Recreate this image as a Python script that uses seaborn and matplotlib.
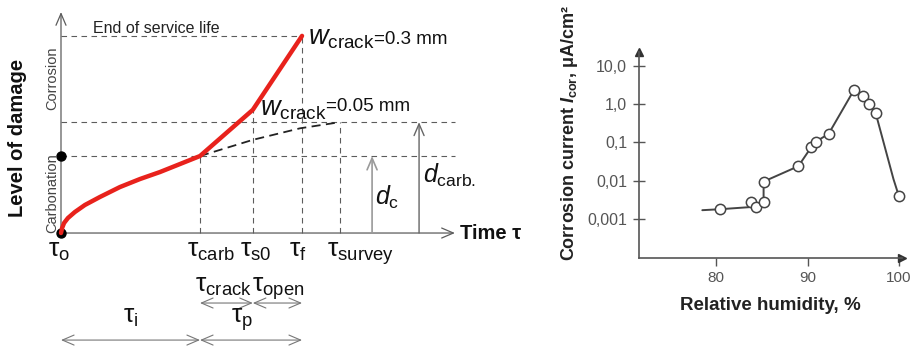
import matplotlib
matplotlib.use("Agg")
import matplotlib.pyplot as plt
from matplotlib.ticker import NullLocator
import seaborn as sns

# ---------------- Service-life model (schematic, arbitrary units) ----------------
carb_time = [0.0, 0.04, 0.11, 0.25, 0.50, 0.86, 1.40, 2.12, 2.84, 3.56, 4.28, 5.0]
carb_level = [0.0, 0.065, 0.13, 0.195, 0.273, 0.364, 0.468, 0.597, 0.701, 0.792, 0.896, 1.0]
corr_time = [5.0, 6.9, 8.67]
corr_level = [1.0, 1.6, 2.56]
carb_only_time = [5.0, 6.9, 8.6, 10.04]
carb_only_level = [1.0, 1.21, 1.36, 1.44]
tau_subs = ["o", "carb", "s0", "f", "survey"]
tau_times = [0.0, 5.0, 6.9, 8.67, 10.04]
d_c = 1.0
d_carb = 1.44
crack_texts = ["=0.05 mm", "=0.3 mm"]

# ---------------- Corrosion current vs relative humidity ----------------
rh_points = [80.4, 83.8, 84.4, 85.2, 85.2, 89.0, 90.4, 90.9, 92.3, 95.1, 96.1, 96.75, 97.45, 100.0]
icor_points = [0.0018, 0.0028, 0.0021, 0.0028, 0.0095, 0.024, 0.075, 0.105, 0.167,
               2.4, 1.62, 1.0, 0.59, 0.0039]
rh_trend = [78.5, 80.4, 84.4, 85.2, 85.2, 89.0, 90.4, 90.9, 92.3, 95.1, 96.1, 96.75,
            97.45, 99.4, 100.0]
icor_trend = [0.0017, 0.0018, 0.0021, 0.0028, 0.0095, 0.024, 0.075, 0.105, 0.167,
              2.4, 1.62, 1.0, 0.59, 0.011, 0.0039]
rh_ticks = [80, 90, 100]
icor_ticks = [0.001, 0.01, 0.1, 1.0, 10.0]
icor_ticklabels = ["0,001", "0,01", "0,1", "1,0", "10,0"]

sns.set_theme(style="white")
plt.rcParams["font.family"] = ["Liberation Sans", "DejaVu Sans"]
plt.rcParams.update({
    "mathtext.fontset": "custom",
    "mathtext.rm": "Liberation Sans",
    "mathtext.it": "Liberation Sans:italic",
    "mathtext.bf": "Liberation Sans:bold",
    "mathtext.bfit": "Liberation Sans:italic:bold",
})

fig = plt.figure(figsize=(9.13, 3.5), dpi=100)

# ======================= left: damage development =======================
axL = fig.add_axes([0, 0, 545 / 913, 1])
axL.set_xlim(-2.194, 17.41)
axL.set_ylim(-1.519, 3.026)
axL.axis("off")

GRAY = "#5c5c5c"
RED = "#e8221c"
t_end, l_top = 14.17, 2.87
dash = (0, (5, 4))

def arrow(ax, p0, p1, style="->", color=GRAY, lw=0.9):
    ax.annotate("", xy=p1, xytext=p0,
                arrowprops=dict(arrowstyle=f"{style},head_length=0.7,head_width=0.3",
                                color=color, lw=lw, shrinkA=0, shrinkB=0))

# axes
arrow(axL, (0, 0), (t_end, 0))
arrow(axL, (0, 0), (0, l_top))

t_o, t_carb, t_s0, t_f, t_survey = tau_times
l_w005, l_end = corr_level[1], corr_level[2]

# guide lines
axL.plot([0, t_f], [l_end, l_end], ls=dash, color=GRAY, lw=0.8)
axL.plot([0, t_end], [d_carb, d_carb], ls=dash, color=GRAY, lw=0.8)
axL.plot([0, t_end], [d_c, d_c], ls=dash, color=GRAY, lw=0.8)
for t, top in [(t_carb, d_c), (t_s0, l_w005), (t_f, l_end), (t_survey, d_carb)]:
    axL.plot([t, t], [0, top], ls=dash, color=GRAY, lw=0.8)

# depth arrows
arrow(axL, (11.19, 0), (11.19, d_c), color="#9a9a9a", lw=1.2)
arrow(axL, (12.88, 0), (12.88, d_carb), color="#666666", lw=1.0)

# damage curves
sns.lineplot(x=carb_only_time, y=carb_only_level, color="#222222", lw=1.3,
             linestyle=(0, (5, 3)), ax=axL)
axL.scatter([t_o, 0], [0, d_c], s=42, color="black", zorder=5)
sns.lineplot(x=carb_time + corr_time[1:], y=carb_level + corr_level[1:], color=RED,
             lw=3.2, solid_capstyle="round", solid_joinstyle="round", zorder=6, ax=axL)

# labels
axL.text(1.15, 2.597, "End of service life", fontsize=11.5, color="#222", va="baseline")
axL.text(8.885, 2.442, r"$w_{\mathrm{crack}}$", fontsize=19.5, color="#111", va="baseline")
axL.text(11.26, 2.455, crack_texts[1], fontsize=13.5, color="#111", va="baseline")
axL.text(7.158, 1.532, r"$w_{\mathrm{crack}}$", fontsize=19.5, color="#111", va="baseline")
axL.text(9.53, 1.584, crack_texts[0], fontsize=13.5, color="#111", va="baseline")
axL.text(-0.324, 2.013, "Corrosion", fontsize=10.5, color="#444", rotation=90,
         ha="center", va="center")
axL.text(-0.324, 0.519, "Carbonation", fontsize=10.5, color="#444", rotation=90,
         ha="center", va="center")
axL.text(-1.547, 1.234, "Level of damage", fontsize=14.5, fontweight="bold", color="#111",
         rotation=90, ha="center", va="center")
axL.text(14.35, 0.0, "Time τ", fontsize=14.5, fontweight="bold", color="#111", va="center")
axL.text(11.295, 0.364, r"$d_{\mathrm{c}}$", fontsize=18, color="#111", va="baseline")
axL.text(13.02, 0.649, r"$d_{\mathrm{carb.}}$", fontsize=18, color="#111", va="baseline")

TAU_FS = 19
for sub, t in zip(tau_subs, tau_times):
    axL.text(t - 0.47, -0.312, rf"$\mathrm{{\tau_{{{sub}}}}}$", fontsize=TAU_FS, color="#111",
             va="baseline")

axL.text(4.82, -0.766, r"$\mathrm{\tau_{crack}}$", fontsize=TAU_FS, color="#111", va="baseline")
axL.text(6.87, -0.766, r"$\mathrm{\tau_{open}}$", fontsize=TAU_FS, color="#111", va="baseline")
arrow(axL, (t_carb, -0.909), (t_s0, -0.909), style="<->", color="#777", lw=0.8)
arrow(axL, (t_s0, -0.909), (t_f, -0.909), style="<->", color="#777", lw=0.8)

axL.text(2.52, -1.169, r"$\mathrm{\tau_{i}}$", fontsize=TAU_FS, color="#111", va="baseline",
         ha="center")
axL.text(6.51, -1.169, r"$\mathrm{\tau_{p}}$", fontsize=TAU_FS, color="#111", va="baseline",
         ha="center")
arrow(axL, (t_o, -1.39), (t_carb, -1.39), style="<->", color="#777", lw=0.8)
arrow(axL, (t_carb, -1.39), (t_f, -1.39), style="<->", color="#777", lw=0.8)

# ======================= right: corrosion current =======================
axR = fig.add_axes([639 / 913, 92 / 350, 263 / 913, 206 / 350])
axR.set_yscale("log")
axR.set_xlim(71.58, 100.33)
axR.set_ylim(10 ** -4.0196, 10 ** 1.366)

sns.lineplot(x=rh_trend, y=icor_trend, sort=False, estimator=None, color="#444444",
             lw=1.4, ax=axR)
sns.scatterplot(x=rh_points, y=icor_points, s=55, facecolor="white", edgecolor="#444444",
                linewidth=1.1, zorder=3, clip_on=False, ax=axR)

for side in ("top", "right"):
    axR.spines[side].set_visible(False)
for side in ("left", "bottom"):
    axR.spines[side].set_color("#555555")
    axR.spines[side].set_linewidth(1.2)
axR.plot(1, 0, ">", color="#333333", ms=6, transform=axR.transAxes, clip_on=False)
axR.plot(0, 1, "^", color="#333333", ms=6, transform=axR.transAxes, clip_on=False)

axR.set_yticks(icor_ticks, icor_ticklabels)
axR.yaxis.set_minor_locator(NullLocator())
axR.set_xticks(rh_ticks, [str(v) for v in rh_ticks])
axR.tick_params(axis="y", direction="inout", length=9, width=1, color="#555555",
                labelcolor="#555555", labelsize=11.5, pad=4, left=True)
axR.tick_params(axis="x", direction="out", length=6, width=1, color="#555555",
                labelcolor="#555555", labelsize=11, pad=3, bottom=True)
axR.set_xlabel("Relative humidity, %", fontsize=13.5, fontweight="bold", color="#222",
               labelpad=9)
axR.set_ylabel("")
fig.text(570 / 913, 1 - 133 / 350,
         r"Corrosion current $\mathbfit{I}_{\mathbf{cor}}$, μA/cm²",
         fontsize=13, fontweight="bold", color="#222", rotation=90, ha="center", va="center")

fig.savefig("out.png", dpi=100)
